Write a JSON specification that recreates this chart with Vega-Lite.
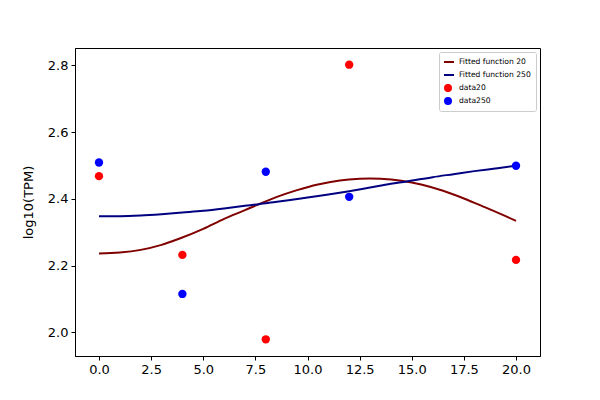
{
  "$schema": "https://vega.github.io/schema/vega-lite/v6.json",
  "autosize": "none",
  "width": 465,
  "height": 308,
  "padding": {"left": 75, "top": 48, "right": 60, "bottom": 44},
  "background": "white",
  "config": {
    "font": "DejaVu Sans",
    "view": {"stroke": "black", "strokeWidth": 1},
    "axis": {
      "grid": false,
      "domainColor": "black",
      "tickColor": "black",
      "tickSize": 4,
      "labelFontSize": 13,
      "labelColor": "black",
      "titleFontSize": 13,
      "titleFontWeight": "normal",
      "titleColor": "black",
      "labelPadding": 3
    },
    "legend": {
      "title": null,
      "orient": "top-right",
      "offset": 4,
      "padding": 5,
      "strokeColor": "#cccccc",
      "fillColor": "white",
      "cornerRadius": 2,
      "labelFontSize": 7.6,
      "labelColor": "black",
      "rowPadding": 3,
      "symbolSize": 36,
      "symbolStrokeWidth": 2,
      "symbolOpacity": 1,
      "labelOffset": 7,
      "clipHeight": 10
    }
  },
  "datasets": {
    "curves": [
      {"series": "Fitted function 20", "x": 0, "y": 2.236},
      {"series": "Fitted function 20", "x": 1, "y": 2.239},
      {"series": "Fitted function 20", "x": 2, "y": 2.247},
      {"series": "Fitted function 20", "x": 3, "y": 2.262},
      {"series": "Fitted function 20", "x": 3.87, "y": 2.281},
      {"series": "Fitted function 20", "x": 5, "y": 2.31},
      {"series": "Fitted function 20", "x": 6, "y": 2.34},
      {"series": "Fitted function 20", "x": 7, "y": 2.366},
      {"series": "Fitted function 20", "x": 7.67, "y": 2.384},
      {"series": "Fitted function 20", "x": 8.5, "y": 2.405},
      {"series": "Fitted function 20", "x": 9.5, "y": 2.426},
      {"series": "Fitted function 20", "x": 10.5, "y": 2.443},
      {"series": "Fitted function 20", "x": 11.55, "y": 2.455},
      {"series": "Fitted function 20", "x": 12.5, "y": 2.46},
      {"series": "Fitted function 20", "x": 13, "y": 2.461},
      {"series": "Fitted function 20", "x": 13.5, "y": 2.46},
      {"series": "Fitted function 20", "x": 14.5, "y": 2.454},
      {"series": "Fitted function 20", "x": 15.5, "y": 2.442},
      {"series": "Fitted function 20", "x": 16.5, "y": 2.424},
      {"series": "Fitted function 20", "x": 17.5, "y": 2.401},
      {"series": "Fitted function 20", "x": 18.5, "y": 2.375},
      {"series": "Fitted function 20", "x": 19.5, "y": 2.348},
      {"series": "Fitted function 20", "x": 20, "y": 2.334},
      {"series": "Fitted function 250", "x": 0, "y": 2.348},
      {"series": "Fitted function 250", "x": 1, "y": 2.348},
      {"series": "Fitted function 250", "x": 2, "y": 2.35},
      {"series": "Fitted function 250", "x": 3, "y": 2.354},
      {"series": "Fitted function 250", "x": 4, "y": 2.359},
      {"series": "Fitted function 250", "x": 5, "y": 2.364},
      {"series": "Fitted function 250", "x": 6, "y": 2.371},
      {"series": "Fitted function 250", "x": 7, "y": 2.379},
      {"series": "Fitted function 250", "x": 7.67, "y": 2.384},
      {"series": "Fitted function 250", "x": 8, "y": 2.387},
      {"series": "Fitted function 250", "x": 9, "y": 2.395},
      {"series": "Fitted function 250", "x": 10, "y": 2.404},
      {"series": "Fitted function 250", "x": 11, "y": 2.413},
      {"series": "Fitted function 250", "x": 12, "y": 2.423},
      {"series": "Fitted function 250", "x": 13, "y": 2.434},
      {"series": "Fitted function 250", "x": 14, "y": 2.445},
      {"series": "Fitted function 250", "x": 14.76, "y": 2.452},
      {"series": "Fitted function 250", "x": 16, "y": 2.465},
      {"series": "Fitted function 250", "x": 17, "y": 2.474},
      {"series": "Fitted function 250", "x": 18, "y": 2.483},
      {"series": "Fitted function 250", "x": 19, "y": 2.491},
      {"series": "Fitted function 250", "x": 20, "y": 2.499}
    ],
    "points": [
      {"series": "data20", "x": 0, "y": 2.468},
      {"series": "data20", "x": 4, "y": 2.232},
      {"series": "data20", "x": 8, "y": 1.979},
      {"series": "data20", "x": 12, "y": 2.802},
      {"series": "data20", "x": 20, "y": 2.217},
      {"series": "data250", "x": 0, "y": 2.509},
      {"series": "data250", "x": 4, "y": 2.115},
      {"series": "data250", "x": 8, "y": 2.481},
      {"series": "data250", "x": 12, "y": 2.406},
      {"series": "data250", "x": 20, "y": 2.499}
    ]
  },
  "encoding": {
    "x": {
      "field": "x", "type": "quantitative",
      "scale": {"domain": [-1.15, 21.15], "nice": false, "zero": false},
      "axis": {"values": [0, 2.5, 5, 7.5, 10, 12.5, 15, 17.5, 20], "format": ".1f", "title": null}
    },
    "y": {
      "field": "y", "type": "quantitative",
      "scale": {"domain": [1.929, 2.852], "nice": false, "zero": false},
      "axis": {"values": [2.0, 2.2, 2.4, 2.6, 2.8], "format": ".1f", "title": "log10(TPM)", "titlePadding": 12}
    },
    "color": {
      "field": "series", "type": "nominal",
      "scale": {
        "domain": ["Fitted function 20", "Fitted function 250", "data20", "data250"],
        "range": ["#800000", "#000080", "#ff0000", "#0000ff"]
      },
      "legend": {
        "encode": {
          "symbols": {"update": {"stroke": {"scale": "color", "field": "value"}}}
        }
      }
    }
  },
  "layer": [
    {
      "data": {"name": "curves"},
      "mark": {"type": "line", "strokeWidth": 2, "clip": true, "interpolate": "monotone"}
    },
    {
      "data": {"name": "points"},
      "mark": {"type": "point", "filled": true, "opacity": 1, "size": 70},
      "encoding": {
        "shape": {
          "field": "series", "type": "nominal",
          "scale": {
            "domain": ["Fitted function 20", "Fitted function 250", "data20", "data250"],
            "range": ["M-2,0H2", "M-2,0H2", "circle", "circle"]
          },
          "legend": {
            "encode": {
              "symbols": {"update": {"stroke": {"scale": "color", "field": "value"}}}
            }
          }
        }
      }
    }
  ]
}
